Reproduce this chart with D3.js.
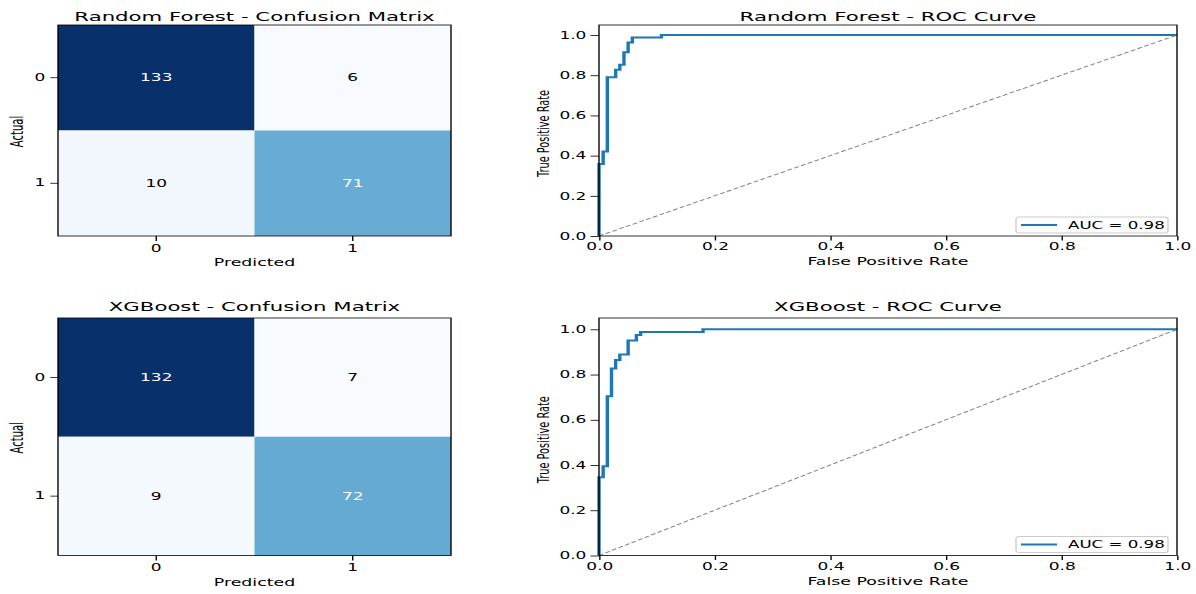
<!DOCTYPE html>
<html>
<head>
<meta charset="utf-8">
<script src="https://cdn.jsdelivr.net/npm/d3@7"></script>
<style>
  body { margin: 0; background: #fff; }
  svg { display: block; }
</style>
</head>
<body>
<div id="chart"></div>
<script>
// ---- data ----
const classLabels = ["0", "1"];

const rfMatrix = [[133, 6], [10, 71]];
const xgbMatrix = [[132, 7], [9, 72]];

const rfFpr = [0, 0, 0.0072, 0.0072, 0.0144, 0.0144, 0.0288, 0.0288, 0.036, 0.036, 0.0432, 0.0432, 0.0504, 0.0504, 0.0576, 0.0576, 0.108, 0.108, 1];
const rfTpr = [0, 0.358, 0.358, 0.42, 0.42, 0.79, 0.79, 0.827, 0.827, 0.852, 0.852, 0.914, 0.914, 0.963, 0.963, 0.988, 0.988, 1, 1];

const xgbFpr = [0, 0, 0.0072, 0.0072, 0.0144, 0.0144, 0.0216, 0.0216, 0.0288, 0.0288, 0.036, 0.036, 0.0504, 0.0504, 0.0647, 0.0647, 0.072, 0.072, 0.18, 0.18, 1];
const xgbTpr = [0, 0.346, 0.346, 0.395, 0.395, 0.704, 0.704, 0.827, 0.827, 0.864, 0.864, 0.889, 0.889, 0.951, 0.951, 0.975, 0.975, 0.988, 0.988, 1, 1];

const chanceLine = [[0, 0], [1, 1]];
const rocTicks = [0, 0.2, 0.4, 0.6, 0.8, 1.0];
const rfAuc = 0.98;
const xgbAuc = 0.98;

// ---- layout ----
const W = 1196, H = 594;
const SX = 1.7;            // the picture is stretched horizontally
const X = v => v / SX;     // pixel x -> inner x

const svg = d3.select("#chart").append("svg")
    .attr("width", W)
    .attr("height", H);

const root = svg.append("g")
    .attr("transform", `scale(${SX},1)`)
    .attr("font-family", "'DejaVu Sans', sans-serif");

const panels = [
    { name: "Random Forest", matrix: rfMatrix, fpr: rfFpr, tpr: rfTpr, auc: rfAuc, top: 25, bottom: 236, titleY: 20.7 },
    { name: "XGBoost", matrix: xgbMatrix, fpr: xgbFpr, tpr: xgbTpr, auc: xgbAuc, top: 318, bottom: 555.5, titleY: 311.5 }
];

function styleAxis(g) {
    g.attr("font-family", null).attr("font-size", 10);
    g.select(".domain").remove();
    g.selectAll(".tick line").attr("stroke", "#000").attr("stroke-width", 0.8);
    g.selectAll(".tick text").attr("fill", "#000");
}

function drawMatrix(p) {
    const g = root.append("g").attr("class", "cm");
    const x = d3.scaleBand().domain(classLabels).range([X(58), X(451)]);
    const y = d3.scaleBand().domain(classLabels).range([p.top, p.bottom]);

    const cells = p.matrix.flatMap((row, i) =>
        row.map((v, j) => ({ actual: classLabels[i], pred: classLabels[j], v })));
    const ext = d3.extent(cells, d => d.v);
    const color = d3.scaleSequential(d3.interpolateBlues).domain(ext);
    const mid = (ext[0] + ext[1]) / 2;

    g.selectAll("rect.cell")
        .data(cells)
        .join("rect")
        .attr("class", "cell")
        .attr("x", d => x(d.pred))
        .attr("y", d => y(d.actual))
        .attr("width", x.bandwidth())
        .attr("height", y.bandwidth())
        .attr("fill", d => color(d.v));

    g.selectAll("text.val")
        .data(cells)
        .join("text")
        .attr("class", "val")
        .attr("x", d => x(d.pred) + x.bandwidth() / 2)
        .attr("y", d => y(d.actual) + y.bandwidth() / 2)
        .attr("dy", "0.36em")
        .attr("text-anchor", "middle")
        .attr("font-size", 10)
        .attr("fill", d => d.v > mid ? "#fff" : "#000")
        .text(d => d.v);

    // frame
    g.append("rect")
        .attr("x", X(58)).attr("y", p.top)
        .attr("width", X(451) - X(58)).attr("height", p.bottom - p.top)
        .attr("fill", "none").attr("stroke", "#000").attr("stroke-width", 0.8);

    g.append("g")
        .attr("transform", `translate(0,${p.bottom})`)
        .call(d3.axisBottom(x).tickSize(5).tickPadding(3.5))
        .call(styleAxis);

    g.append("g")
        .attr("transform", `translate(${X(58)},0)`)
        .call(d3.axisLeft(y).tickSize(4.5).tickPadding(3))
        .call(styleAxis);

    g.append("text")
        .attr("x", X(254.5)).attr("y", p.titleY)
        .attr("text-anchor", "middle").attr("font-size", 12.5)
        .text(`${p.name} - Confusion Matrix`);

    g.append("text")
        .attr("x", X(254.5)).attr("y", p.bottom + 30.5)
        .attr("text-anchor", "middle").attr("font-size", 10.2)
        .text("Predicted");

    g.append("text")
        .attr("transform", `translate(${X(23)},${(p.top + p.bottom) / 2 + 1}) rotate(-90)`)
        .attr("text-anchor", "middle").attr("font-size", 10)
        .text("Actual");
}

function drawRoc(p) {
    const g = root.append("g").attr("class", "roc");
    const x = d3.scaleLinear().domain([0, 1]).range([X(599), X(1177)]);
    const y = d3.scaleLinear().domain([0, 1.05]).range([p.bottom, p.top]);
    const line = d3.line().x(d => x(d[0])).y(d => y(d[1]));

    g.append("path")
        .datum(chanceLine)
        .attr("d", line)
        .attr("fill", "none")
        .attr("stroke", "#808080")
        .attr("stroke-width", 0.9)
        .attr("stroke-dasharray", "3,1.6");

    g.append("path")
        .datum(d3.zip(p.fpr, p.tpr))
        .attr("d", line)
        .attr("fill", "none")
        .attr("stroke", "#1f77b4")
        .attr("stroke-width", 2)
        .attr("stroke-linejoin", "miter");

    g.append("rect")
        .attr("x", x(0)).attr("y", p.top)
        .attr("width", x(1) - x(0)).attr("height", p.bottom - p.top)
        .attr("fill", "none").attr("stroke", "#000").attr("stroke-width", 0.8);

    g.append("g")
        .attr("transform", `translate(0,${p.bottom})`)
        .call(d3.axisBottom(x).tickValues(rocTicks).tickFormat(d3.format(".1f")).tickSize(4.5).tickPadding(2.5))
        .call(styleAxis);

    g.append("g")
        .attr("transform", `translate(${x(0)},0)`)
        .call(d3.axisLeft(y).tickValues(rocTicks).tickFormat(d3.format(".1f")).tickSize(5).tickPadding(2.4))
        .call(styleAxis);

    // legend
    const lg = g.append("g").attr("transform", `translate(0,${p.bottom})`);
    lg.append("rect")
        .attr("x", X(1016)).attr("y", -19)
        .attr("width", X(1168) - X(1016)).attr("height", 16)
        .attr("rx", X(3)).attr("ry", 2)
        .attr("fill", "#fff").attr("fill-opacity", 0.8)
        .attr("stroke", "#cccccc").attr("stroke-width", 0.8);
    lg.append("line")
        .attr("x1", X(1021)).attr("x2", X(1057))
        .attr("y1", -11).attr("y2", -11)
        .attr("stroke", "#1f77b4").attr("stroke-width", 2);
    lg.append("text")
        .attr("x", X(1068)).attr("y", -7.5)
        .attr("font-size", 9.8)
        .text(`AUC = ${d3.format(".2f")(p.auc)}`);

    g.append("text")
        .attr("x", X(888)).attr("y", p.titleY)
        .attr("text-anchor", "middle").attr("font-size", 12.5)
        .text(`${p.name} - ROC Curve`);

    g.append("text")
        .attr("x", X(888)).attr("y", p.bottom + 29.5)
        .attr("text-anchor", "middle").attr("font-size", 10.2)
        .text("False Positive Rate");

    g.append("text")
        .attr("transform", `translate(${X(549)},${(p.top + p.bottom) / 2 + 3}) rotate(-90)`)
        .attr("text-anchor", "middle").attr("font-size", 9.8)
        .text("True Positive Rate");
}

panels.forEach(p => {
    drawMatrix(p);
    drawRoc(p);
});
</script>
</body>
</html>
